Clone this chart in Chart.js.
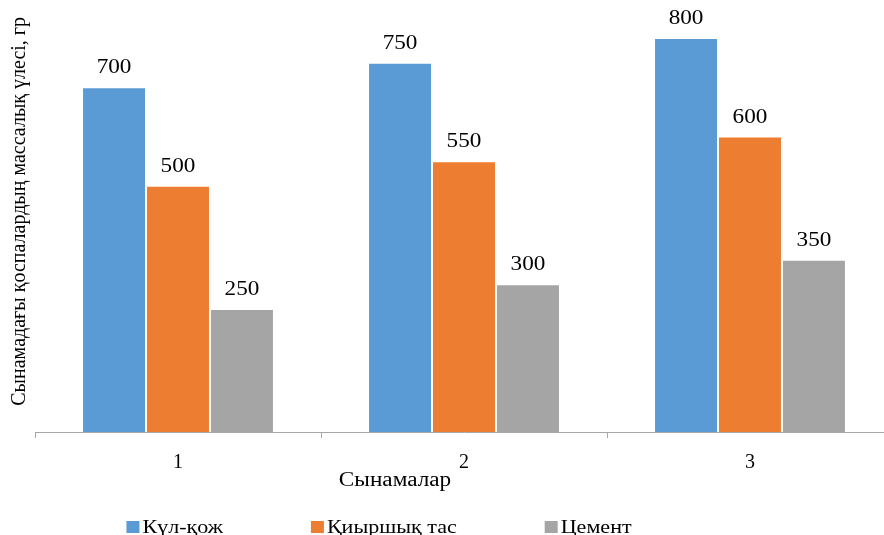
<!DOCTYPE html>
<html>
<head>
<meta charset="utf-8">
<script src="https://cdn.jsdelivr.net/npm/chart.js@4/dist/chart.umd.min.js"></script>
<style>
  html, body { margin: 0; padding: 0; background: #ffffff; overflow: hidden; }
  #wrap { width: 900px; height: 535px; }
</style>
</head>
<body>
<div id="wrap"><canvas id="chart" width="900" height="535"></canvas></div>
<script>
const categories = ['1', '2', '3'];
const seriesNames = ['Күл-қож', 'Қиыршық тас', 'Цемент'];
const kulKozh = [700, 750, 800];
const kiyrshykTas = [500, 550, 600];
const cement = [250, 300, 350];
const seriesColors = ['#5B9BD5', '#ED7D31', '#A5A5A5'];
const yTitle = 'Сынамадағы қоспалардың массалық үлесі, гр';
const xTitle = 'Сынамалар';

const SERIF = '"Liberation Serif", "Times New Roman", serif';
const WIDEN = 1.16; // horizontal stretch of the serif lettering

function wideText(ctx, text, x, y, align) {
  ctx.save();
  ctx.translate(x, y);
  ctx.scale(WIDEN, 1);
  ctx.textAlign = align;
  ctx.fillText(text, 0, 0);
  ctx.restore();
}

// Value labels above each bar, axis captions and the bottom legend
const annotate = {
  id: 'annotate',
  afterDatasetsDraw(chart) {
    const ctx = chart.ctx;
    ctx.save();
    ctx.font = '20px ' + SERIF;
    ctx.fillStyle = '#000000';
    ctx.textBaseline = 'alphabetic';
    chart.data.datasets.forEach((ds, di) => {
      chart.getDatasetMeta(di).data.forEach((bar, i) => {
        wideText(ctx, String(ds.data[i]), bar.x, bar.y - 14, 'center');
      });
    });
    ctx.restore();
  },
  afterDraw(chart) {
    const ctx = chart.ctx;
    const area = chart.chartArea;
    ctx.save();
    ctx.fillStyle = '#000000';
    ctx.font = '20px ' + SERIF;

    // vertical axis caption
    ctx.save();
    ctx.translate(20, area.top + (area.bottom - area.top) * 0.44);
    ctx.rotate(-Math.PI / 2);
    ctx.textAlign = 'center';
    ctx.textBaseline = 'middle';
    ctx.fillText(yTitle, 0, 0);
    ctx.restore();

    // horizontal axis caption
    ctx.textBaseline = 'middle';
    wideText(ctx, xTitle, 395, area.bottom + 49, 'center');

    // legend
    ctx.font = '19px ' + SERIF;
    const boxW = 13, boxH = 12, gap = 3, spacing = 88;
    const items = chart.data.datasets.map(ds => ({
      text: ds.label, color: ds.backgroundColor,
      w: boxW + gap + ctx.measureText(ds.label).width * WIDEN
    }));
    const total = items.reduce((s, it) => s + it.w, 0) + spacing * (items.length - 1);
    let x = 379 - total / 2;
    const yc = 527;
    items.forEach(it => {
      ctx.fillStyle = it.color;
      ctx.fillRect(x, yc - boxH / 2, boxW, boxH);
      ctx.fillStyle = '#000000';
      wideText(ctx, it.text, x + boxW + gap, yc + 1, 'left');
      x += it.w + spacing;
    });
    ctx.restore();
  }
};

const datasets = [kulKozh, kiyrshykTas, cement].map((vals, i) => ({
  label: seriesNames[i],
  data: vals,
  backgroundColor: seriesColors[i],
  borderColor: 'rgba(255,255,255,0.4)',
  borderWidth: 1,
  categoryPercentage: 0.671,
  barPercentage: 1.0
}));

new Chart(document.getElementById('chart'), {
  type: 'bar',
  data: { labels: categories, datasets },
  options: {
    responsive: false,
    animation: false,
    devicePixelRatio: 1,
    layout: { padding: { left: 35, right: 7, top: 38, bottom: 47 } },
    plugins: {
      legend: { display: false },
      tooltip: { enabled: false },
      title: { display: false }
    },
    scales: {
      x: {
        grid: {
          display: true,
          offset: true,
          drawOnChartArea: false,
          drawTicks: true,
          tickLength: 6,
          color: '#a6a6a6',
          lineWidth: 1
        },
        border: { display: true, color: '#a6a6a6', width: 1 },
        ticks: {
          color: '#000000',
          padding: 13,
          font: { family: SERIF, size: 20 }
        }
      },
      y: {
        display: false,
        min: 0,
        max: 800
      }
    }
  },
  plugins: [annotate]
});
</script>
</body>
</html>
